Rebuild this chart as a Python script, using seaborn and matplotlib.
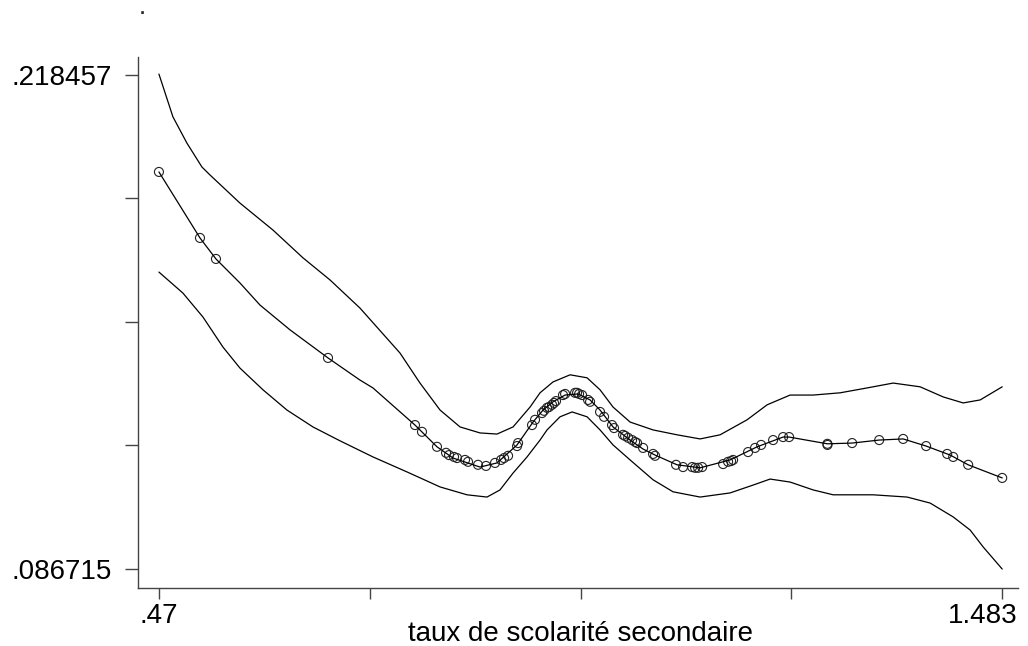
import numpy as np
import pandas as pd
import matplotlib
matplotlib.use("Agg")
import matplotlib.pyplot as plt
from matplotlib.transforms import ScaledTranslation
import seaborn as sns

# Local regression of the outcome on secondary schooling, with its band
upper_x = [0.4700, 0.4868, 0.5036, 0.5217, 0.5313, 0.5673, 0.6070, 0.6430, 0.6755,
           0.7115, 0.7596, 0.7836, 0.8077, 0.8317, 0.8557, 0.8761, 0.8954, 0.9158,
           0.9278, 0.9434, 0.9639, 0.9843, 0.9999, 1.0155, 1.0360, 1.0636, 1.0924,
           1.1201, 1.1441, 1.1765, 1.2006, 1.2282, 1.2559, 1.2883, 1.3207, 1.3520,
           1.3844, 1.4121, 1.4361, 1.4565, 1.4830]
upper_y = [0.2187, 0.2073, 0.2003, 0.1939, 0.1918, 0.1843, 0.1771, 0.1697, 0.1638,
           0.1563, 0.1443, 0.1363, 0.1291, 0.1246, 0.1230, 0.1227, 0.1246, 0.1299,
           0.1337, 0.1366, 0.1385, 0.1377, 0.1345, 0.1299, 0.1259, 0.1238, 0.1225,
           0.1214, 0.1225, 0.1265, 0.1305, 0.1331, 0.1331, 0.1337, 0.1350, 0.1363,
           0.1353, 0.1326, 0.1310, 0.1318, 0.1353]

fit_x = [0.4700, 0.5193, 0.5385, 0.5673, 0.5914, 0.6274, 0.6731, 0.7115, 0.7271,
         0.7776, 0.8040, 0.8233, 0.8557, 0.8761, 0.9002, 0.9194, 0.9314, 0.9434,
         0.9579, 0.9735, 0.9879, 0.9999, 1.0155, 1.0360, 1.0516, 1.0660, 1.0924,
         1.1201, 1.1561, 1.1886, 1.2198, 1.2270, 1.2730, 1.3027, 1.3352, 1.3640,
         1.3916, 1.4205, 1.4421, 1.4830]
fit_y = [0.1926, 0.1750, 0.1694, 0.1630, 0.1571, 0.1505, 0.1430, 0.1371, 0.1350,
         0.1251, 0.1193, 0.1163, 0.1139, 0.1150, 0.1198, 0.1259, 0.1291, 0.1313,
         0.1331, 0.1334, 0.1318, 0.1291, 0.1246, 0.1211, 0.1187, 0.1171, 0.1145,
         0.1137, 0.1158, 0.1193, 0.1219, 0.1219, 0.1201, 0.1203, 0.1211, 0.1214,
         0.1195, 0.1171, 0.1145, 0.1110]

lower_x = [0.4700, 0.4988, 0.5229, 0.5469, 0.5673, 0.5950, 0.6238, 0.6550, 0.6875,
           0.7271, 0.7680, 0.8077, 0.8401, 0.8641, 0.8797, 0.8954, 0.9122, 0.9278,
           0.9362, 0.9518, 0.9663, 0.9843, 0.9999, 1.0155, 1.0360, 1.0636, 1.0876,
           1.1201, 1.1561, 1.1838, 1.2042, 1.2282, 1.2559, 1.2799, 1.3280, 1.3688,
           1.3964, 1.4241, 1.4445, 1.4601, 1.4830]
lower_y = [0.1659, 0.1603, 0.1539, 0.1459, 0.1403, 0.1345, 0.1291, 0.1246, 0.1209,
           0.1166, 0.1126, 0.1086, 0.1065, 0.1059, 0.1078, 0.1123, 0.1166, 0.1211,
           0.1238, 0.1273, 0.1286, 0.1273, 0.1238, 0.1198, 0.1158, 0.1105, 0.1073,
           0.1059, 0.1070, 0.1091, 0.1107, 0.1099, 0.1078, 0.1065, 0.1065, 0.1059,
           0.1043, 0.1006, 0.0971, 0.0926, 0.0867]

# Fitted values at each observed schooling rate
obs_x = [0.4700, 0.5193, 0.5385, 0.6731, 0.7776, 0.7860, 0.8040, 0.8149, 0.8185,
         0.8245, 0.8281, 0.8377, 0.8413, 0.8533, 0.8629, 0.8737, 0.8810, 0.8846,
         0.8894, 0.9002, 0.9014, 0.9182, 0.9218, 0.9302, 0.9326, 0.9362, 0.9386,
         0.9422, 0.9446, 0.9470, 0.9554, 0.9579, 0.9699, 0.9723, 0.9747, 0.9783,
         0.9855, 0.9879, 0.9999, 1.0047, 1.0143, 1.0167, 1.0276, 1.0300, 1.0336,
         1.0384, 1.0420, 1.0444, 1.0516, 1.0636, 1.0660, 1.0912, 1.0996, 1.1105,
         1.1141, 1.1177, 1.1225, 1.1477, 1.1537, 1.1573, 1.1597, 1.1777, 1.1861,
         1.1934, 1.2078, 1.2198, 1.2270, 1.2730, 1.2731, 1.3027, 1.3352, 1.3640,
         1.3916, 1.4169, 1.4241, 1.4421, 1.4830]
obs_y = [0.1926, 0.1750, 0.1694, 0.1430, 0.1251, 0.1233, 0.1193, 0.1177, 0.1171,
         0.1166, 0.1163, 0.1158, 0.1153, 0.1145, 0.1142, 0.1150, 0.1158, 0.1163,
         0.1169, 0.1195, 0.1203, 0.1251, 0.1265, 0.1283, 0.1289, 0.1297, 0.1299,
         0.1305, 0.1310, 0.1315, 0.1331, 0.1334, 0.1337, 0.1337, 0.1334, 0.1331,
         0.1318, 0.1313, 0.1286, 0.1273, 0.1251, 0.1243, 0.1225, 0.1222, 0.1217,
         0.1211, 0.1206, 0.1203, 0.1190, 0.1174, 0.1169, 0.1145, 0.1139, 0.1139,
         0.1137, 0.1137, 0.1139, 0.1147, 0.1153, 0.1155, 0.1158, 0.1179, 0.1190,
         0.1198, 0.1211, 0.1219, 0.1219, 0.1201, 0.1198, 0.1203, 0.1211, 0.1214,
         0.1195, 0.1174, 0.1166, 0.1145, 0.1110]

y_ticks = [0.086715, 0.119651, 0.152586, 0.185522, 0.218457]
y_ticklabels = [".086715", "", "", "", ".218457"]
x_ticks = [0.47, 0.72325, 0.9765, 1.22975, 1.483]
x_ticklabels = [".47", "", "", "", "1.483"]
x_title = "taux de scolarité secondaire"

sns.set_theme(style="white")
plt.rcParams["font.family"] = ["Liberation Sans", "DejaVu Sans"]

fig = plt.figure(figsize=(10.28, 6.46), dpi=100)
ax = fig.add_axes([0.1342, 0.0898, 0.8561, 0.8220])

line_kw = dict(color="black", linewidth=0.9, estimator=None, sort=False, legend=False)
sns.lineplot(x=upper_x, y=upper_y, ax=ax, **line_kw)
sns.lineplot(x=lower_x, y=lower_y, ax=ax, **line_kw)
sns.lineplot(x=fit_x, y=fit_y, ax=ax, **line_kw)
sns.scatterplot(x=obs_x, y=obs_y, ax=ax, marker="o", s=42,
                facecolor="none", edgecolor="#222222", linewidth=0.8, legend=False)

ax.set_xlim(0.4448, 1.502)
ax.set_ylim(0.08165, 0.22326)

ax.set_xticks(x_ticks)
ax.set_xticklabels(x_ticklabels)
ax.set_yticks(y_ticks)
ax.set_yticklabels(y_ticklabels)

for side in ("top", "right"):
    ax.spines[side].set_visible(False)
for side in ("left", "bottom"):
    ax.spines[side].set_color("#444444")
    ax.spines[side].set_linewidth(1.0)

ax.tick_params(axis="both", which="major", direction="out", color="#444444",
               width=1.0, labelsize=20, labelcolor="black", bottom=True, left=True)
ax.tick_params(axis="y", length=9.5, pad=9)
ax.tick_params(axis="x", length=8, pad=3)

# keep the last x label inside the plotting area
last = ax.get_xticklabels()[-1]
last.set_transform(last.get_transform() + ScaledTranslation(-0.20, 0, fig.dpi_scale_trans))

ax.set_xlabel("")
ax.set_ylabel("")
fig.text(580 / 1028, 1 - 634 / 646, x_title, fontsize=20, color="black",
         ha="center", va="center")
fig.text(142 / 1028, 1 - 1 / 646, ".", fontsize=13, fontweight="bold",
         ha="center", va="top")

fig.savefig("out.png", dpi=100, facecolor="white")
